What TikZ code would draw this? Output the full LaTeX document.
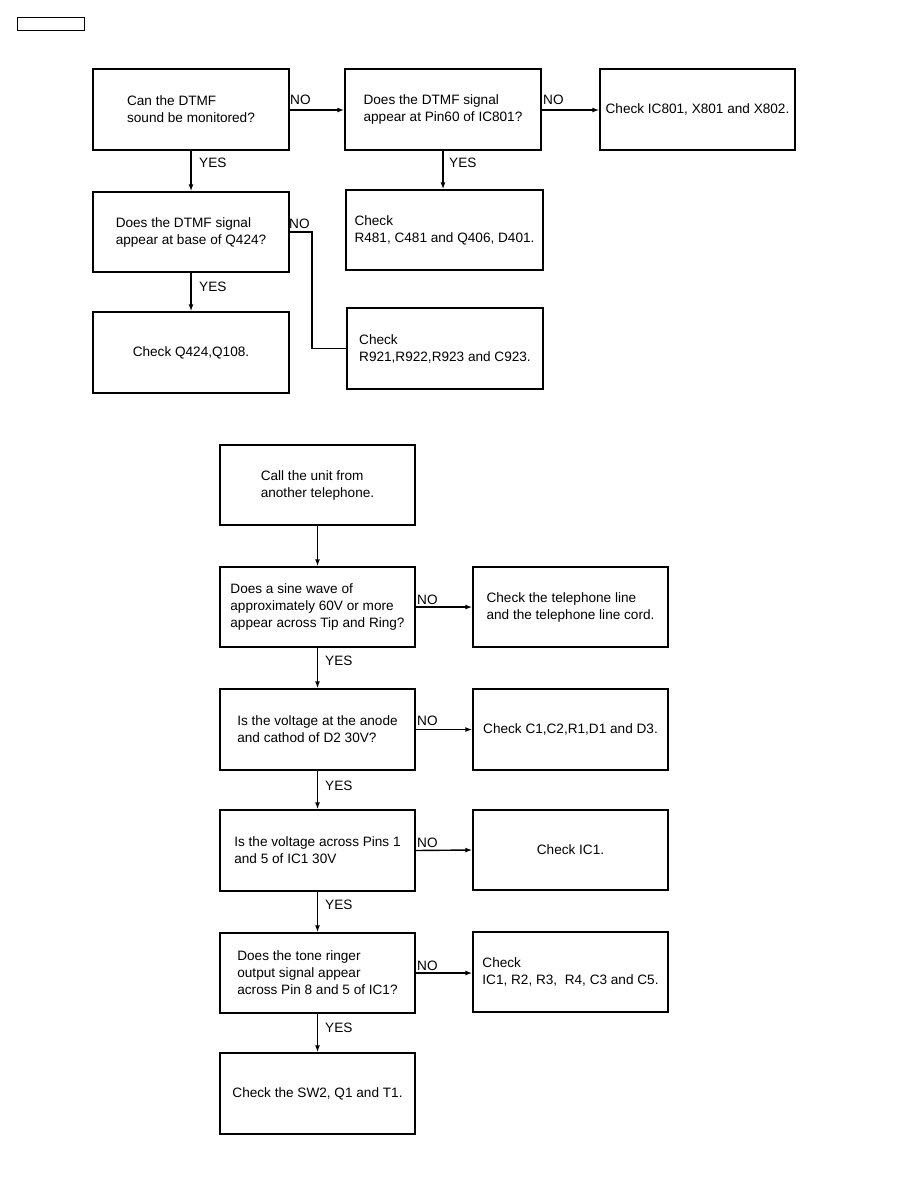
\documentclass[tikz,border=0pt]{standalone}
\usepackage{fontspec}
\setmainfont{Liberation Sans}
\usetikzlibrary{arrows.meta}
\begin{document}
\begin{tikzpicture}[x=1pt,y=-1pt,
  box/.style={draw,line width=1.4pt,minimum width=196pt,minimum height=81pt,align=left,inner sep=0pt,font=\fontsize{13.6}{17}\selectfont},
  lbl/.style={font=\fontsize{13.6}{15}\selectfont,inner sep=0pt},
  arr/.style={line width=1.4pt,-{Latex[length=7pt,width=5pt]}},
  ln/.style={line width=1.4pt}]
\useasboundingbox (0,0) rectangle (918,1188);
\node[draw,line width=0.9pt,minimum width=67pt,minimum height=13pt,inner sep=0pt] (tag) at (50.5,23.5) {};
% top chart
\node[box] (A) at (191,109.5) {Can the DTMF\\sound be monitored?};
\node[box] (B) at (443,109.5) {Does the DTMF signal\\appear at Pin60 of IC801?};
\node[box,minimum width=195pt] (C) at (697.5,109.5) {Check IC801, X801 and X802.};
\node[box,minimum height=80pt] (D) at (191,232) {Does the DTMF signal\\appear at base of Q424?};
\node[box,minimum width=197pt,minimum height=80pt] (E) at (444.5,230) {Check\\R481, C481 and Q406, D401.};
\node[box] (F) at (191,352.5) {Check Q424,Q108.};
\node[box] (G) at (445,348.5) {Check\\R921,R922,R923 and C923.};
\draw[arr] (A.east |- 0,110) -- (B.west |- 0,110);
\draw[arr] (B.east |- 0,110) -- (C.west |- 0,110);
\draw[arr] (A.south) -- (D.north);
\draw[arr] (B.south -| 443,0) -- (E.north -| 443,0);
\draw[arr] (D.south) -- (F.north);
\coordinate (d1) at (312,232);
\coordinate (d2) at (312,348.5);
\draw[ln] (D.east) -- (d1) -- (d2) -- (G.west);
\node[lbl,anchor=base west] (noA) at (290,105) {NO};
\node[lbl,anchor=base west] (noB) at (543,105) {NO};
\node[lbl,anchor=base west] (noD) at (289,228) {NO};
\node[lbl,anchor=west] (yesA) at (199,163) {YES};
\node[lbl,anchor=west] (yesB) at (449,163) {YES};
\node[lbl,anchor=west] (yesD) at (199,287) {YES};
% bottom chart
\node[box,minimum width=195pt,minimum height=80pt] (H) at (317.5,485) {Call the unit from\\another telephone.};
\node[box,minimum width=195pt,minimum height=80pt] (I) at (317.5,607) {Does a sine wave of\\approximately 60V or more\\appear across Tip and Ring?};
\node[box,minimum width=195pt,minimum height=80pt] (J) at (570.5,607) {Check the telephone line\\and the telephone line cord.};
\node[box,minimum width=195pt] (K) at (317.5,729.5) {Is the voltage at the anode\\and cathod of D2 30V?};
\node[box,minimum width=195pt] (L) at (570.5,729.5) {Check C1,C2,R1,D1 and D3.};
\node[box,minimum width=195pt] (M) at (317.5,850.5) {Is the voltage across Pins 1\\and 5 of IC1 30V};
\node[box,minimum width=195pt,minimum height=80pt] (N) at (570.5,850) {Check IC1.};
\node[box,minimum width=195pt,minimum height=80pt] (O) at (317.5,973) {Does the tone ringer\\output signal appear\\across Pin 8 and 5 of IC1?};
\node[box,minimum width=195pt,minimum height=80pt] (P) at (570.5,972) {Check\\IC1, R2, R3,\ \ R4, C3 and C5.};
\node[box,minimum width=195pt] (Q) at (317.5,1093.5) {Check the SW2, Q1 and T1.};
\draw[arr] (H.south) -- (I.north);
\draw[arr] (I.south) -- (K.north);
\draw[arr] (K.south) -- (M.north);
\draw[arr] (M.south) -- (O.north);
\draw[arr] (O.south) -- (Q.north);
\draw[arr] (I.east) -- (J.west);
\draw[arr] (K.east) -- (L.west);
\draw[arr] (M.east) -- (N.west);
\draw[arr] (O.east) -- (P.west |- O.east);
\node[lbl,anchor=base west] (noI) at (417,604) {NO};
\node[lbl,anchor=base west] (noK) at (417,725) {NO};
\node[lbl,anchor=base west] (noM) at (417,847) {NO};
\node[lbl,anchor=base west] (noO) at (417,970) {NO};
\node[lbl,anchor=west] (yesI) at (325,661) {YES};
\node[lbl,anchor=west] (yesK) at (325,786) {YES};
\node[lbl,anchor=west] (yesM) at (325,905) {YES};
\node[lbl,anchor=west] (yesO) at (325,1028) {YES};
\end{tikzpicture}
\end{document}
